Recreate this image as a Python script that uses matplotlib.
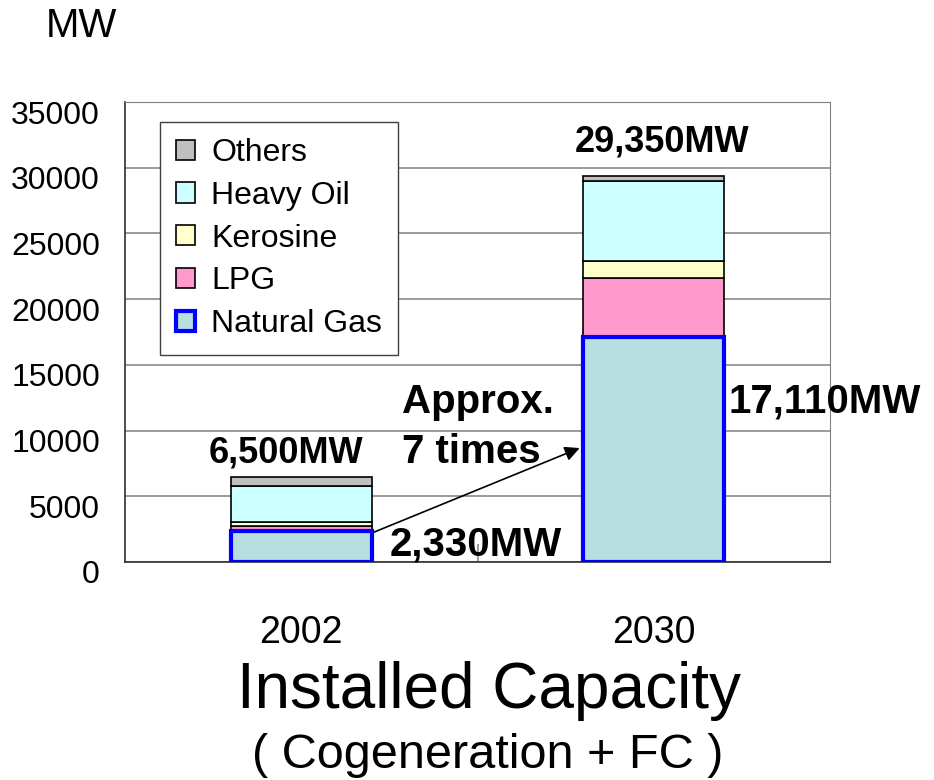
import matplotlib
matplotlib.use('Agg')
import matplotlib.pyplot as plt
import matplotlib.transforms as mtransforms
import numpy as np

plt.rcParams['font.family'] = ['Liberation Sans', 'DejaVu Sans']

# data (MW)
years = ['2002', '2030']
natural_gas = [2330, 17110]
lpg = [380, 4490]
kerosine = [330, 1300]
heavy_oil = [2740, 6100]
others = [720, 350]
total_labels = ['6,500MW', '29,350MW']

fig = plt.figure(figsize=(9.34, 7.8), dpi=100)
ax = fig.add_axes([0.1338, 0.2795, 0.7549, 0.5897])

x = np.arange(len(years))
w = 0.4
ng = ax.bar(x, natural_gas, w, color='#B9DEE0', edgecolor='#0000FF', linewidth=3, zorder=3)
bottom = np.array(natural_gas, dtype=float)
lp = ax.bar(x, lpg, w, bottom=bottom, color='#FF99CC', edgecolor='black', linewidth=1.2, zorder=2)
bottom += lpg
ke = ax.bar(x, kerosine, w, bottom=bottom, color='#FFFFCC', edgecolor='black', linewidth=1.2, zorder=2)
bottom += kerosine
ho = ax.bar(x, heavy_oil, w, bottom=bottom, color='#CCFFFF', edgecolor='black', linewidth=1.2, zorder=2)
bottom += heavy_oil
ot = ax.bar(x, others, w, bottom=bottom, color='#C0C0C0', edgecolor='black', linewidth=1.2, zorder=2)

ax.set_xlim(-0.5, 1.5)
ax.set_ylim(0, 35000)
ax.set_yticks(range(0, 35001, 5000))
ax.yaxis.grid(True, color='#808080', linewidth=1.1)
ax.set_axisbelow(True)
ax.tick_params(axis='y', length=0, pad=18, labelsize=23)
offset = mtransforms.ScaledTranslation(0, -0.1, fig.dpi_scale_trans)
for lab in ax.get_yticklabels():
    lab.set_transform(lab.get_transform() + offset)

ax.set_xticks(x, years)
ax.tick_params(axis='x', length=0, pad=38, labelsize=27)
ax.set_xticks([0.5], minor=True)
ax.tick_params(axis='x', which='minor', direction='in', length=13, color='#808080', width=1.1)

for side in ['top', 'right']:
    ax.spines[side].set_color('#808080')
for side in ['left', 'bottom']:
    ax.spines[side].set_color('#303030')
    ax.spines[side].set_linewidth(1.2)

leg = ax.legend([ot, ho, ke, lp, ng], ['Others', 'Heavy Oil', 'Kerosine', 'LPG', 'Natural Gas'],
                loc='upper left', bbox_to_anchor=(0.0496, 0.9565), borderaxespad=0,
                fontsize=23, handlelength=0.6, handleheight=0.6, handletextpad=0.5,
                labelspacing=0.4, borderpad=0.5, fancybox=False, framealpha=1,
                edgecolor='#404040')
leg.get_frame().set_linewidth(1.0)
leg.set_zorder(5)

# annotations
ax.text(-0.042, 7534, total_labels[0], ha='center', va='baseline', fontsize=26, fontweight='bold')
ax.text(1.023, 31200, total_labels[1], ha='center', va='baseline', fontsize=26, fontweight='bold')
ax.text(0.286, 11340, 'Approx.', ha='left', va='baseline', fontsize=29, fontweight='bold')
ax.text(0.286, 7534, '7 times', ha='left', va='baseline', fontsize=29, fontweight='bold')
ax.text(0.252, 457, '2,330MW', ha='left', va='baseline', fontsize=29, fontweight='bold')
ax.text(1.211, 11340, '17,110MW', ha='left', va='baseline', fontsize=29, fontweight='bold', clip_on=False)
ax.annotate('', xy=(0.797, 8750), xytext=(0.2, 2200),
            arrowprops=dict(arrowstyle='-|>', color='black', lw=1.2, mutation_scale=22), zorder=6)

fig.text(81 / 934, 1 - 37 / 780, 'MW', ha='center', va='baseline', fontsize=29)
fig.text(489 / 934, 1 - 708 / 780, 'Installed Capacity', ha='center', va='baseline', fontsize=46)
fig.text(488 / 934, 1 - 768 / 780, '( Cogeneration + FC )', ha='center', va='baseline', fontsize=35)

fig.savefig('out.png', dpi=100)
